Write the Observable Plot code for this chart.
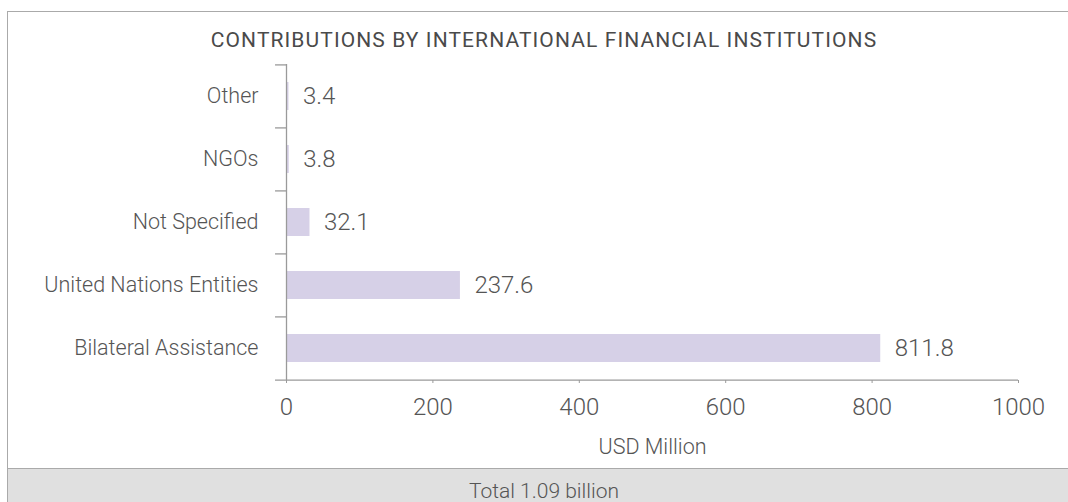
<!DOCTYPE html>
<html>
<head>
<meta charset="utf-8">
<script src="https://cdn.jsdelivr.net/npm/d3@7"></script>
<script src="https://cdn.jsdelivr.net/npm/@observablehq/plot@0.6"></script>
<style>
  html, body { margin: 0; padding: 0; background: #fff; width: 1068px; height: 502px; overflow: hidden; }
  body { position: relative; font-family: Roboto, "Open Sans", sans-serif; }
  #frame { position: absolute; left: 7px; top: 11px; width: 1100px; height: 520px; border-left: 1px solid #aaa; border-top: 1px solid #aaa; box-sizing: border-box; }
  #title { position: absolute; left: 7px; width: 1074px; top: 30px; text-align: center; font-size: 21px; letter-spacing: 1.1px; line-height: 20px; color: #4a4a4a; font-weight: 400; }
  #chart { position: absolute; left: 0; top: 56px; }
  #band { position: absolute; left: 8px; top: 468px; width: 1100px; height: 40px; background: #e0e0e0; border-top: 1px solid #aaa; box-sizing: border-box; }
  #total { position: absolute; left: 7px; width: 1074px; top: 481px; text-align: center; font-size: 21px; line-height: 20px; color: #555; font-weight: 300; }
</style>
</head>
<body>
<div id="frame"></div>
<div id="title"></div>
<div id="chart"></div>
<div id="band"></div>
<div id="total"></div>
<script>
const titleText = "CONTRIBUTIONS BY INTERNATIONAL FINANCIAL INSTITUTIONS";
const categories = ["Other", "NGOs", "Not Specified", "United Nations Entities", "Bilateral Assistance"];
const values = [3.4, 3.8, 32.1, 237.6, 811.8];
const xTicks = [0, 200, 400, 600, 800, 1000];
const xLabel = "USD Million";
const totalText = "Total 1.09 billion";

document.getElementById("title").textContent = titleText;
document.getElementById("total").textContent = totalText;

const data = categories.map((c, i) => ({category: c, value: values[i]}));

const W = 1068, H = 411, mt = 8, mb = 87;
const step = (H - mt - mb) / categories.length;
const textColor = "#555";
const axisColor = "#9a9a9a";

const chart = Plot.plot({
  width: W,
  height: H,
  marginLeft: 286,
  marginRight: 50,
  marginTop: mt,
  marginBottom: mb,
  style: {fontFamily: "Roboto, sans-serif", color: textColor, background: "transparent"},
  x: {domain: [0, 1000]},
  y: {domain: categories, paddingInner: 0.55, paddingOuter: 0.275},
  marks: [
    Plot.barX(data, {x: "value", y: "category", fill: "#d6d0e7"}),
    Plot.ruleX([0], {stroke: axisColor, strokeWidth: 1.3}),
    Plot.ruleY(categories, {y: d => d, x1: -15, x2: 0, dy: -step / 2, stroke: axisColor, strokeWidth: 1.3}),
    Plot.ruleY(categories.slice(-1), {y: d => d, x1: -15, x2: 1000, dy: step / 2, stroke: axisColor, strokeWidth: 1.3}),
    Plot.axisY({tickSize: 0, tickPadding: 28, fontSize: 21.5, fontWeight: 300, fill: textColor, label: null}),
    Plot.axisX({ticks: xTicks, tickFormat: d3.format("d"), tickSize: 3, tickPadding: 14, fontSize: 24, fontWeight: 300, fill: textColor, stroke: axisColor, label: null}),
    Plot.axisX({ticks: [], tickSize: 0, label: xLabel, labelArrow: "none", labelAnchor: "center", labelOffset: 73, fontSize: 21.5, fontWeight: 300, fill: textColor})
  ].concat([
    Plot.text(data, {x: "value", y: "category", text: d => d.value.toFixed(1), textAnchor: "start", dx: 14, fontSize: 24, fontWeight: 300, fill: textColor})
  ])
});
document.getElementById("chart").appendChild(chart);
chart.querySelectorAll("text").forEach(t => {
  if (t.textContent.startsWith(xLabel)) {
    t.textContent = xLabel;
    t.style.fontSize = "21.5px";
    t.style.fontWeight = "300";
  }
});
</script>
</body>
</html>
